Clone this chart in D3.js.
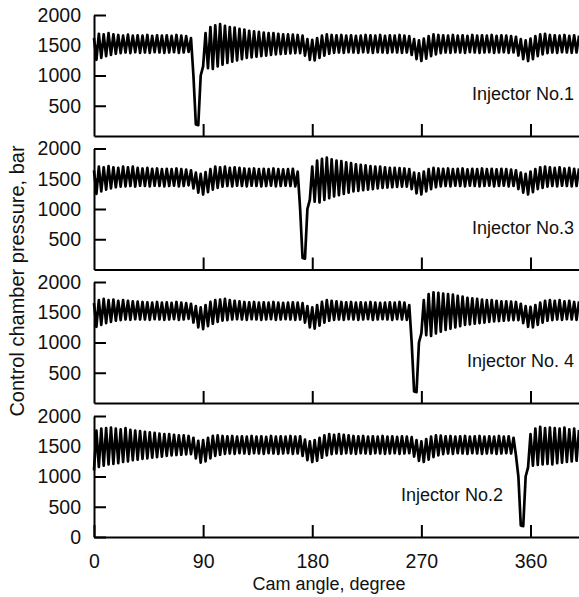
<!DOCTYPE html>
<html>
<head>
<meta charset="utf-8">
<script src="https://cdn.jsdelivr.net/npm/d3@7"></script>
<style>
  body { margin: 0; background: #fff; }
  svg { display: block; font-family: "Liberation Sans", Arial, sans-serif; }
  .axis path, .axis line { stroke: #000; stroke-width: 2; }
  .axis text { fill: #111; font-size: 19.5px; }
</style>
</head>
<body>
<svg id="chart" width="579" height="597"></svg>
<script>
// cam angle ticks and pressure ticks
const angleTicks = [90, 180, 270, 360];
const pressureTicks = [500, 1000, 1500, 2000];
const angleStep = 2; // one sample every 2 degrees of cam angle

const panelLabels = ['Injector No.1', 'Injector No.3', 'Injector No. 4', 'Injector No.2'];

// control chamber pressure (bar), peaks and troughs
const inj1 = [
  1620,1260,1690,1290,1680,1320,1700,1340,1680,1360,
  1670,1370,1660,1380,1675,1370,1660,1385,1665,1375,
  1660,1380,1670,1375,1655,1385,1665,1380,1660,1375,
  1665,1380,1655,1385,1670,1375,1660,1380,1650,1390,
  1620,1000,190,180,1000,1150,1700,1120,1800,1110,
  1830,1150,1850,1180,1820,1210,1800,1230,1790,1250,
  1770,1270,1760,1290,1740,1300,1730,1310,1720,1320,
  1710,1330,1700,1340,1700,1350,1690,1355,1680,1360,
  1680,1365,1675,1370,1670,1370,1660,1330,1600,1260,
  1590,1250,1620,1290,1660,1330,1680,1360,1670,1375,
  1665,1380,1670,1375,1660,1385,1665,1380,1655,1375,
  1660,1385,1670,1380,1665,1375,1660,1385,1670,1380,
  1655,1375,1665,1385,1660,1380,1670,1375,1660,1380,
  1650,1340,1600,1270,1580,1240,1610,1280,1650,1320,
  1680,1350,1670,1370,1665,1380,1660,1375,1670,1385,
  1660,1380,1665,1375,1655,1385,1670,1380,1660,1375,
  1665,1380,1660,1385,1670,1375,1655,1380,1665,1385,
  1660,1375,1650,1380,1640,1330,1600,1270,1580,1240,
  1610,1270,1650,1320,1680,1350,1690,1370,1670,1380,
  1665,1375,1660,1385,1670,1380,1655,1375,1665,1380,
  1660
];

const inj3 = [
  1640,1250,1700,1290,1690,1320,1710,1340,1690,1360,
  1680,1370,1700,1375,1690,1380,1700,1370,1680,1385,
  1670,1380,1680,1375,1665,1385,1670,1380,1660,1375,
  1665,1380,1660,1385,1670,1375,1660,1380,1650,1390,
  1640,1340,1600,1270,1580,1240,1610,1280,1660,1320,
  1700,1350,1690,1370,1700,1380,1680,1375,1690,1385,
  1680,1380,1670,1375,1665,1385,1670,1380,1660,1375,
  1665,1380,1660,1385,1670,1375,1660,1380,1655,1385,
  1660,1380,1665,1375,1620,1000,190,180,1000,1150,
  1700,1120,1800,1110,1830,1150,1850,1180,1820,1210,
  1800,1230,1790,1250,1770,1270,1760,1290,1740,1300,
  1730,1310,1720,1320,1710,1330,1700,1340,1700,1350,
  1690,1355,1680,1360,1680,1365,1675,1370,1670,1370,
  1660,1330,1600,1260,1590,1240,1620,1290,1660,1330,
  1680,1360,1670,1375,1665,1380,1670,1375,1660,1385,
  1665,1380,1670,1375,1655,1385,1665,1380,1660,1375,
  1670,1380,1660,1385,1665,1375,1655,1380,1665,1385,
  1660,1375,1650,1380,1640,1330,1600,1270,1580,1240,
  1620,1280,1660,1330,1690,1350,1700,1370,1690,1380,
  1680,1375,1690,1385,1670,1380,1680,1375,1665,1380,
  1670
];

const inj4 = [
  1650,1260,1700,1290,1720,1320,1700,1340,1710,1360,
  1690,1370,1700,1380,1690,1375,1680,1385,1675,1380,
  1670,1380,1665,1375,1660,1385,1670,1380,1660,1375,
  1665,1380,1655,1385,1670,1375,1660,1380,1650,1390,
  1640,1330,1600,1250,1580,1220,1620,1270,1670,1310,
  1700,1340,1710,1360,1720,1370,1700,1380,1690,1385,
  1680,1380,1670,1375,1665,1385,1670,1380,1660,1375,
  1665,1380,1660,1385,1670,1375,1660,1380,1655,1385,
  1660,1380,1665,1375,1660,1380,1650,1330,1600,1250,
  1580,1230,1620,1280,1670,1330,1700,1360,1690,1375,
  1680,1380,1670,1375,1665,1385,1670,1380,1660,1375,
  1665,1380,1660,1385,1670,1375,1660,1380,1655,1385,
  1660,1380,1665,1375,1660,1385,1670,1380,1660,1375,
  1620,1000,190,180,1000,1150,1700,1120,1800,1110,
  1830,1150,1820,1180,1810,1210,1800,1230,1790,1250,
  1770,1270,1760,1290,1740,1300,1730,1310,1720,1320,
  1710,1330,1700,1340,1700,1350,1690,1355,1680,1360,
  1680,1365,1675,1370,1670,1370,1640,1320,1600,1260,
  1590,1250,1620,1290,1660,1330,1690,1360,1700,1370,
  1690,1380,1700,1375,1680,1385,1690,1380,1670,1375,
  1680
];

const inj2 = [
  1100,1760,1160,1790,1180,1800,1200,1810,1210,1790,
  1220,1780,1240,1800,1250,1770,1270,1760,1280,1750,
  1290,1740,1300,1730,1310,1720,1320,1710,1330,1700,
  1340,1700,1350,1690,1355,1680,1360,1680,1365,1670,
  1370,1640,1300,1590,1230,1600,1250,1640,1300,1670,
  1340,1680,1360,1670,1375,1665,1380,1670,1375,1660,
  1385,1665,1380,1660,1375,1670,1385,1660,1380,1665,
  1375,1655,1385,1670,1380,1660,1375,1665,1380,1660,
  1385,1670,1375,1660,1380,1665,1340,1610,1270,1580,
  1240,1600,1260,1640,1310,1680,1350,1700,1370,1690,
  1380,1700,1375,1690,1385,1680,1380,1670,1375,1665,
  1385,1670,1380,1660,1375,1665,1385,1660,1380,1670,
  1375,1660,1380,1665,1385,1655,1375,1665,1380,1660,
  1385,1650,1330,1600,1260,1580,1240,1620,1280,1660,
  1320,1680,1350,1675,1370,1665,1380,1670,1375,1660,
  1385,1665,1380,1670,1375,1660,1385,1665,1380,1670,
  1375,1660,1380,1665,1385,1660,1375,1670,1380,1660,
  1385,1665,1380,1640,1350,1000,190,180,1000,1150,
  1700,1180,1790,1190,1820,1200,1800,1210,1810,1200,
  1800,1220,1790,1230,1810,1240,1780,1250,1790,1260,
  1770
];

const series = [inj1, inj3, inj4, inj2];

const svg = d3.select('#chart');
const left = 94, right = 579;
const panelBottoms = [136, 269.5, 403, 537];
const panelHeight = 121;

const x = d3.scaleLinear().domain([0, 400]).range([left, right]);

series.forEach((values, p) => {
  const bottom = panelBottoms[p];
  const y = d3.scaleLinear().domain([0, 2000]).range([bottom, bottom - panelHeight]);
  const isLast = p === series.length - 1;

  const line = d3.line()
    .x((d, i) => x(i * angleStep))
    .y(d => y(d));

  svg.append('path')
    .datum(values)
    .attr('fill', 'none')
    .attr('stroke', '#000')
    .attr('stroke-width', 2.7)
    .attr('stroke-linejoin', 'round')
    .attr('d', line);

  const yAxis = d3.axisLeft(y)
    .tickValues(isLast ? [0, ...pressureTicks] : pressureTicks)
    .tickSizeInner(-12)
    .tickSizeOuter(0)
    .tickPadding(13)
    .tickFormat(d3.format('d'));

  svg.append('g')
    .attr('class', 'axis')
    .attr('transform', `translate(${left},0)`)
    .call(yAxis);

  const xAxis = d3.axisBottom(x)
    .tickValues(isLast ? [0, ...angleTicks] : angleTicks)
    .tickSizeInner(-12)
    .tickSizeOuter(0)
    .tickPadding(17)
    .tickFormat(isLast ? d3.format('d') : '');

  svg.append('g')
    .attr('class', 'axis')
    .attr('transform', `translate(0,${bottom})`)
    .call(xAxis);

  svg.append('text')
    .attr('x', p === 3 ? 503 : 574)
    .attr('y', bottom - 36)
    .attr('text-anchor', 'end')
    .style('font-size', '18px')
    .attr('fill', '#111')
    .text(panelLabels[p]);
});

svg.append('text')
  .attr('x', 329)
  .attr('y', 590)
  .attr('text-anchor', 'middle')
  .style('font-size', '18px')
  .attr('fill', '#111')
  .text('Cam angle, degree');

svg.append('text')
  .attr('transform', 'translate(24,281) rotate(-90)')
  .attr('text-anchor', 'middle')
  .style('font-size', '20px')
  .attr('fill', '#111')
  .text('Control chamber pressure, bar');
</script>
</body>
</html>
